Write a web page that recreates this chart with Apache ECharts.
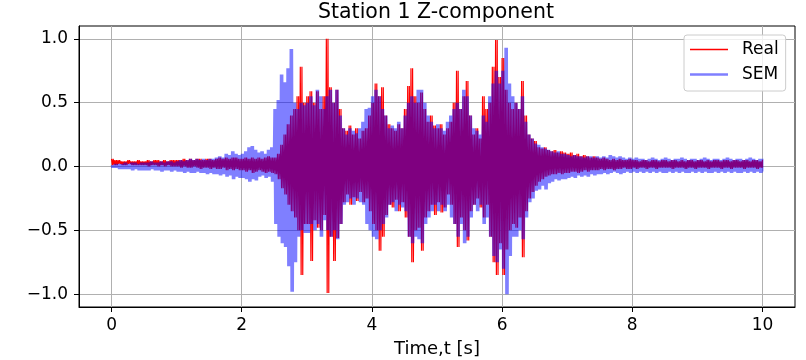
<!DOCTYPE html>
<html>
<head>
<meta charset="utf-8">
<script src="https://cdn.jsdelivr.net/npm/echarts@6/dist/echarts.min.js"></script>
<style>html,body{margin:0;padding:0;background:#fff;}#chart{width:806px;height:360px;}</style>
</head>
<body>
<div id="chart"></div>
<script>
// sampling step of the envelope tables (seconds)
const timeStep = 0.05;
const xTicks = [0, 2, 4, 6, 8, 10];
const yTicks = [-1.0, -0.5, 0.0, 0.5, 1.0];

// Real record: upper / lower envelope, one value per 0.05 s (t = 0 ... 10 s)
const realHi = [
 0.06,0.05,0.05,0.04,0.04,0.05,0.04,0.04,0.05,0.04,
 0.04,0.05,0.04,0.05,0.05,0.04,0.05,0.04,0.05,0.05,
 0.05,0.05,0.06,0.05,0.06,0.05,0.06,0.06,0.05,0.06,
 0.06,0.05,0.06,0.07,0.06,0.07,0.06,0.07,0.07,0.06,
 0.06,0.07,0.06,0.07,0.06,0.07,0.06,0.07,0.08,0.07,
 0.07,0.10,0.17,0.25,0.33,0.40,0.45,0.55,0.78,0.50,
 0.55,0.59,0.50,0.59,0.45,0.55,1.00,0.62,0.50,0.60,
 0.45,0.30,0.28,0.32,0.25,0.30,0.22,0.28,0.30,0.40,
 0.50,0.65,0.55,0.62,0.40,0.33,0.30,0.28,0.33,0.30,
 0.45,0.63,0.77,0.55,0.50,0.58,0.45,0.35,0.40,0.32,
 0.30,0.33,0.25,0.30,0.35,0.50,0.75,0.45,0.55,0.67,
 0.40,0.25,0.30,0.22,0.55,0.45,0.50,0.78,0.99,0.70,
 0.85,0.60,0.50,0.45,0.50,0.45,0.67,0.40,0.25,0.22,
 0.20,0.15,0.14,0.15,0.13,0.12,0.13,0.11,0.12,0.11,
 0.10,0.11,0.09,0.10,0.08,0.09,0.08,0.07,0.08,0.07,
 0.06,0.07,0.06,0.05,0.06,0.05,0.06,0.05,0.05,0.06,
 0.05,0.05,0.04,0.05,0.05,0.04,0.05,0.05,0.04,0.05,
 0.05,0.04,0.05,0.05,0.04,0.05,0.04,0.05,0.05,0.04,
 0.05,0.05,0.04,0.05,0.04,0.05,0.05,0.04,0.05,0.05,
 0.04,0.05,0.05,0.04,0.05,0.05,0.04,0.05,0.05,0.04,
 0.05
];
const realLo = [
 0.01,0.01,0.02,0.01,0.01,0.02,0.01,0.01,0.01,0.01,
 0.01,0.00,0.01,0.01,0.00,0.01,0.00,0.01,0.00,0.00,
 0.00,-0.01,0.00,-0.01,-0.01,0.00,-0.01,-0.02,-0.01,-0.01,
 -0.02,-0.01,-0.02,-0.02,-0.01,-0.03,-0.02,-0.03,-0.02,-0.03,
 -0.03,-0.04,-0.03,-0.05,-0.04,-0.03,-0.04,-0.05,-0.04,-0.05,
 -0.06,-0.10,-0.17,-0.22,-0.30,-0.35,-0.40,-0.50,-0.85,-0.45,
 -0.45,-0.74,-0.42,-0.48,-0.50,-0.38,-0.99,-0.55,-0.74,-0.56,
 -0.45,-0.28,-0.22,-0.30,-0.24,-0.27,-0.20,-0.28,-0.25,-0.35,
 -0.45,-0.50,-0.66,-0.55,-0.38,-0.30,-0.32,-0.26,-0.35,-0.28,
 -0.40,-0.55,-0.75,-0.50,-0.48,-0.66,-0.40,-0.35,-0.30,-0.38,
 -0.28,-0.36,-0.32,-0.22,-0.30,-0.45,-0.63,-0.40,-0.50,-0.58,
 -0.35,-0.30,-0.25,-0.32,-0.40,-0.30,-0.55,-0.75,-0.85,-0.60,
 -0.85,-0.65,-0.50,-0.45,-0.48,-0.40,-0.71,-0.35,-0.25,-0.20,
 -0.15,-0.12,-0.10,-0.08,-0.07,-0.06,-0.06,-0.05,-0.06,-0.05,
 -0.05,-0.04,-0.04,-0.05,-0.04,-0.03,-0.04,-0.03,-0.03,-0.03,
 -0.02,-0.03,-0.02,-0.02,-0.03,-0.02,-0.02,-0.01,-0.02,-0.02,
 -0.01,-0.02,-0.01,-0.01,-0.02,-0.01,-0.01,-0.02,-0.01,-0.01,
 -0.01,-0.01,-0.02,-0.01,-0.01,-0.01,-0.02,-0.01,-0.01,-0.02,
 -0.01,-0.01,-0.01,-0.02,-0.01,-0.01,-0.01,-0.02,-0.01,-0.01,
 -0.02,-0.01,-0.01,-0.01,-0.02,-0.01,-0.01,-0.01,-0.02,-0.01,
 -0.01
];
// SEM synthetic: upper / lower envelope, one value per 0.05 s
const semHi = [
 0.01,0.02,0.02,0.02,0.03,0.02,0.03,0.03,0.02,0.03,
 0.03,0.03,0.04,0.03,0.03,0.04,0.03,0.04,0.04,0.03,
 0.04,0.05,0.04,0.05,0.06,0.05,0.06,0.05,0.06,0.05,
 0.06,0.06,0.07,0.08,0.07,0.10,0.09,0.12,0.10,0.09,
 0.10,0.12,0.15,0.16,0.13,0.11,0.12,0.10,0.13,0.15,
 0.45,0.52,0.72,0.66,0.77,0.92,0.50,0.45,0.50,0.48,
 0.50,0.55,0.48,0.60,0.55,0.45,0.55,0.60,0.50,0.60,
 0.40,0.30,0.25,0.30,0.28,0.26,0.30,0.35,0.45,0.46,
 0.55,0.60,0.55,0.45,0.40,0.30,0.32,0.30,0.35,0.30,
 0.40,0.50,0.55,0.50,0.60,0.60,0.50,0.40,0.35,0.30,
 0.33,0.30,0.28,0.35,0.40,0.45,0.50,0.45,0.60,0.55,
 0.40,0.30,0.28,0.25,0.40,0.35,0.55,0.65,0.75,0.65,
 0.75,0.93,0.65,0.55,0.50,0.45,0.55,0.35,0.25,0.22,
 0.18,0.17,0.15,0.14,0.13,0.12,0.11,0.12,0.10,0.10,
 0.09,0.08,0.09,0.08,0.08,0.07,0.08,0.08,0.07,0.08,
 0.07,0.08,0.07,0.09,0.08,0.07,0.08,0.07,0.06,0.07,
 0.06,0.07,0.06,0.06,0.05,0.06,0.07,0.06,0.05,0.06,
 0.07,0.06,0.05,0.06,0.06,0.07,0.06,0.05,0.06,0.06,
 0.05,0.06,0.07,0.06,0.05,0.06,0.06,0.05,0.06,0.07,
 0.06,0.05,0.06,0.06,0.05,0.06,0.07,0.06,0.05,0.06,
 0.06
];
const semLo = [
 -0.01,-0.01,-0.02,-0.02,-0.02,-0.02,-0.03,-0.02,-0.03,-0.03,
 -0.03,-0.03,-0.02,-0.03,-0.03,-0.04,-0.03,-0.03,-0.04,-0.03,
 -0.04,-0.04,-0.05,-0.04,-0.05,-0.05,-0.04,-0.05,-0.05,-0.06,
 -0.05,-0.06,-0.06,-0.07,-0.06,-0.08,-0.07,-0.10,-0.08,-0.09,
 -0.09,-0.10,-0.12,-0.10,-0.11,-0.08,-0.07,-0.09,-0.08,-0.12,
 -0.45,-0.55,-0.60,-0.63,-0.78,-0.98,-0.75,-0.55,-0.50,-0.52,
 -0.52,-0.45,-0.50,-0.45,-0.55,-0.42,-0.50,-0.55,-0.50,-0.57,
 -0.45,-0.30,-0.28,-0.25,-0.30,-0.25,-0.28,-0.30,-0.45,-0.50,
 -0.55,-0.57,-0.50,-0.45,-0.40,-0.30,-0.28,-0.35,-0.30,-0.32,
 -0.35,-0.55,-0.60,-0.55,-0.57,-0.60,-0.45,-0.40,-0.35,-0.30,
 -0.35,-0.30,-0.35,-0.30,-0.40,-0.45,-0.55,-0.45,-0.60,-0.55,
 -0.40,-0.30,-0.35,-0.30,-0.45,-0.40,-0.55,-0.70,-0.75,-0.65,
 -0.80,-1.00,-0.70,-0.55,-0.55,-0.50,-0.57,-0.40,-0.28,-0.25,
 -0.19,-0.18,-0.15,-0.18,-0.13,-0.12,-0.10,-0.11,-0.10,-0.10,
 -0.09,-0.08,-0.09,-0.07,-0.08,-0.07,-0.08,-0.06,-0.07,-0.06,
 -0.06,-0.05,-0.06,-0.05,-0.04,-0.05,-0.06,-0.05,-0.04,-0.05,
 -0.04,-0.05,-0.04,-0.05,-0.04,-0.05,-0.04,-0.05,-0.04,-0.05,
 -0.05,-0.04,-0.05,-0.04,-0.05,-0.04,-0.05,-0.05,-0.04,-0.05,
 -0.04,-0.05,-0.04,-0.05,-0.05,-0.04,-0.05,-0.04,-0.05,-0.04,
 -0.05,-0.04,-0.05,-0.05,-0.04,-0.05,-0.04,-0.05,-0.04,-0.05,
 -0.04
];

// oscillating trace: within each 0.05 s step the signal swings
// between that step's peak and trough (two cycles per step)
function trace(hi, lo) {
  const pts = [];
  const tEnd = (hi.length - 1) * timeStep;
  const q = timeStep / 4;
  for (let i = 0; i < hi.length; i++) {
    const t = i * timeStep;
    pts.push([t, hi[i]]);
    pts.push([Math.min(t + q, tEnd), lo[i]]);
    if (t + 2 * q <= tEnd) {
      pts.push([t + 2 * q, hi[i]]);
      pts.push([t + 3 * q, lo[i]]);
    }
  }
  return pts;
}

const FONT = 'DejaVu Sans';
const fmt = v => (Math.abs(v) < 1e-9 ? '0.0' : v.toFixed(1)).replace('-', '\u2212');

const chart = echarts.init(document.getElementById('chart'), null, {renderer: 'canvas'});
chart.setOption({
  animation: false,
  backgroundColor: '#ffffff',
  title: {
    text: 'Station 1 Z-component',
    left: 436, top: 2, textAlign: 'center', padding: 0,
    textStyle: {fontFamily: FONT, fontSize: 20.5, fontWeight: 'normal', color: '#000'}
  },
  grid: {left: 79, right: 11, top: 26, bottom: 53, containLabel: false, outerBoundsMode: 'none',
         show: true, borderColor: '#000', borderWidth: 1, backgroundColor: 'transparent'},
  legend: {
    orient: 'vertical', left: 684, top: 35,
    padding: [6, 7, 8, 6], itemGap: 8,
    itemWidth: 47, itemHeight: 10,
    backgroundColor: 'rgba(255,255,255,0.8)', borderColor: '#cccccc', borderWidth: 1, borderRadius: 3,
    textStyle: {fontFamily: FONT, fontSize: 17, lineHeight: 17, color: '#000'},
    data: [
      {name: 'Real', icon: 'path://M0,0M47,10M0,4.25H38V5.75H0Z'},
      {name: 'SEM', icon: 'path://M0,0M47,10M0,3.75H38V6.25H0Z'}
    ]
  },
  xAxis: {
    type: 'value', min: -0.5, max: 10.5,
    name: 'Time,t [s]', nameLocation: 'middle', nameGap: 33,
    nameTextStyle: {fontFamily: FONT, fontSize: 18, color: '#000'},
    axisLine: {show: true, onZero: false, lineStyle: {color: '#000', width: 1}},
    axisTick: {show: true, inside: false, length: 5, customValues: xTicks, lineStyle: {color: '#000'}},
    axisLabel: {customValues: xTicks, margin: 10, fontFamily: FONT, fontSize: 17, color: '#000', formatter: v => String(v)},
    splitLine: {show: true, lineStyle: {color: '#b0b0b0', width: 1}}
  },
  yAxis: {
    type: 'value', min: -1.1, max: 1.1,
    axisLine: {show: true, onZero: false, lineStyle: {color: '#000', width: 1}},
    axisTick: {show: true, inside: false, length: 5, customValues: yTicks, lineStyle: {color: '#000'}},
    axisLabel: {customValues: yTicks, margin: 11, fontFamily: FONT, fontSize: 17, color: '#000', formatter: fmt},
    splitLine: {show: true, lineStyle: {color: '#b0b0b0', width: 1}}
  },
  series: [
    {
      name: 'Real', type: 'line', data: trace(realHi, realLo),
      showSymbol: false, symbol: 'none', color: '#ff0000',
      lineStyle: {width: 1.2, color: '#ff0000'}, z: 2
    },
    {
      name: 'SEM', type: 'line', data: trace(semHi, semLo),
      showSymbol: false, symbol: 'none', color: 'rgba(0,0,255,0.5)',
      lineStyle: {width: 2, color: 'rgba(0,0,255,0.5)'}, z: 3
    }
  ]
});
</script>
</body>
</html>
